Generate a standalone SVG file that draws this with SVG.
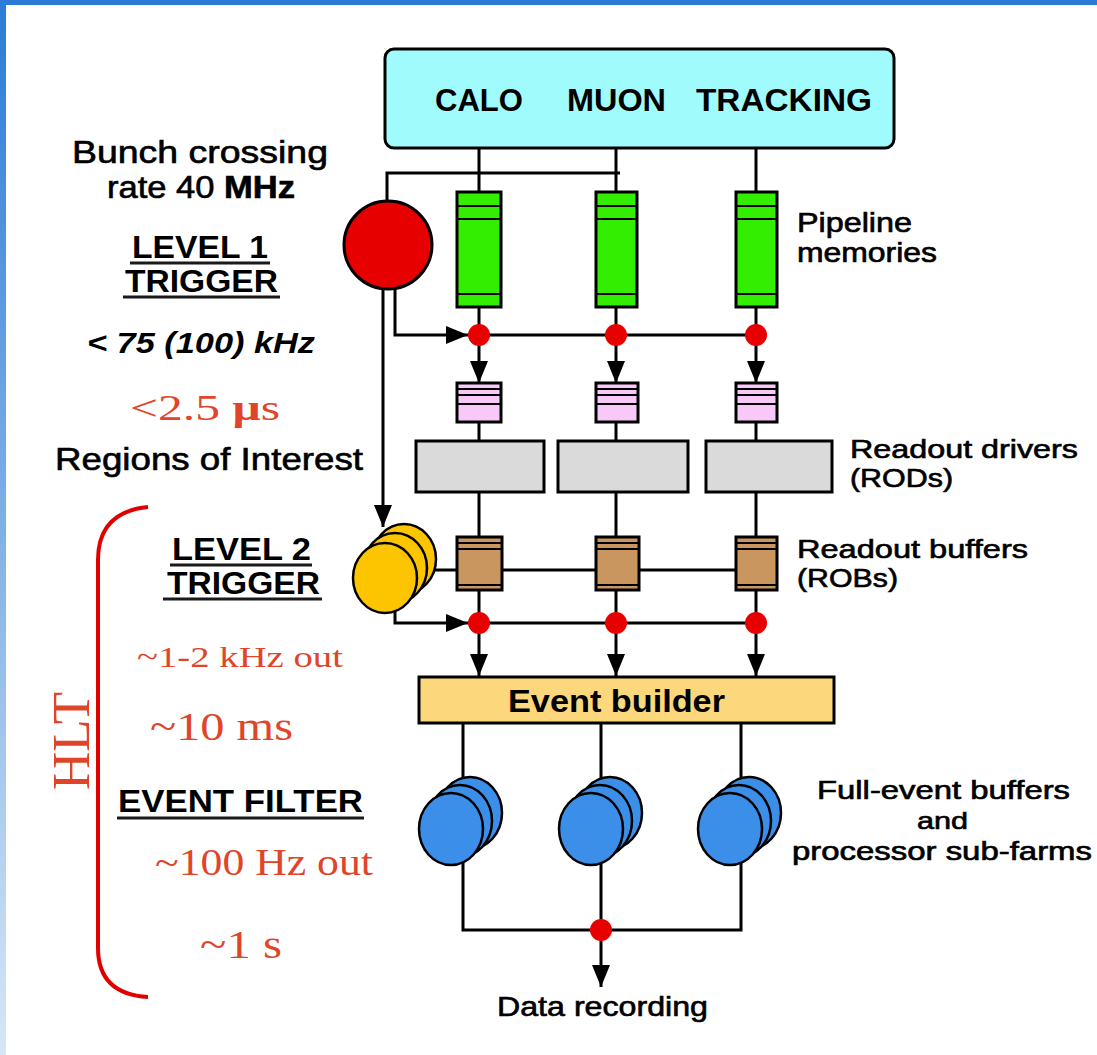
<svg xmlns="http://www.w3.org/2000/svg" width="1097" height="1055" viewBox="0 0 1097 1055">
<defs>
  <linearGradient id="sideGrad" x1="0" y1="0" x2="0" y2="1">
    <stop offset="0" stop-color="#2a7cd6"/>
    <stop offset="1" stop-color="#d6e6f6"/>
  </linearGradient>
  <marker id="arr" viewBox="0 0 22 18" refX="22" refY="9" markerWidth="22" markerHeight="18" markerUnits="userSpaceOnUse" orient="auto" preserveAspectRatio="none">
    <path d="M0,0 L22,9 L0,18 z" fill="#000"/>
  </marker>
  <style>
    .sans { font-family: "Liberation Sans", Arial, sans-serif; fill: #000; }
    .med { stroke: #000; stroke-width: 0.65; }
    .b { font-weight: bold; }
    .serif { font-family: "Liberation Serif", "Times New Roman", serif; fill: #e0452a; }
    .ul { stroke: #1a1a1a; stroke-width: 3; }
    .wire { stroke: #000; stroke-width: 3; fill: none; }
    .box { stroke: #000; stroke-width: 3; }
    .thin { stroke: #000; stroke-width: 2; }
    .dot { fill: #e60000; }
    .disk { stroke: #000; stroke-width: 2.5; }
  </style>
</defs>

<rect x="0" y="0" width="1097" height="1055" fill="#ffffff"/>
<rect x="0" y="0" width="1097" height="5" fill="#2a7cd6"/>
<rect x="0" y="0" width="6" height="1055" fill="url(#sideGrad)"/>

<!-- connectors -->
<g id="connectors">
  <path class="wire" d="M479,148 V192 M616,148 V192 M756,148 V192"/>
  <path class="wire" d="M387,200 V173 H620"/>
  <path class="wire" d="M479,307 V335 M616,307 V335 M756,307 V335"/>
  <path class="wire" d="M395,289 V335 H468" marker-end="url(#arr)"/>
  <path class="wire" d="M468,335 H756"/>
  <path class="wire" d="M383,290 V527" marker-end="url(#arr)"/>
  <path class="wire" d="M479,335 V383" marker-end="url(#arr)"/>
  <path class="wire" d="M616,335 V383" marker-end="url(#arr)"/>
  <path class="wire" d="M756,335 V383" marker-end="url(#arr)"/>
  <path class="wire" d="M479,422 V441 M616,422 V441 M756,422 V441"/>
  <path class="wire" d="M479,492 V537 M616,492 V537 M756,492 V537"/>
  <path class="wire" d="M430,570 H756"/>
  <path class="wire" d="M479,590 V623 M616,590 V623 M756,590 V623"/>
  <path class="wire" d="M395,610 V623 H468" marker-end="url(#arr)"/>
  <path class="wire" d="M468,623 H756"/>
  <path class="wire" d="M479,623 V676" marker-end="url(#arr)"/>
  <path class="wire" d="M616,623 V676" marker-end="url(#arr)"/>
  <path class="wire" d="M756,623 V676" marker-end="url(#arr)"/>
  <path class="wire" d="M463,723 V800 M601,723 V800 M741,723 V800"/>
  <path class="wire" d="M463,850 V930 H741 V850 M601,850 V930"/>
  <path class="wire" d="M601,930 V987" marker-end="url(#arr)"/>
</g>

<!-- detectors box -->
<g id="detectors">
  <rect class="box" x="385" y="49" width="509" height="99" rx="9" fill="#a0fbfd"/>
  <text class="sans b" font-size="32" y="111"><tspan x="435" textLength="88" lengthAdjust="spacingAndGlyphs">CALO</tspan></text>
  <text class="sans b" font-size="32" y="111"><tspan x="567" textLength="99" lengthAdjust="spacingAndGlyphs">MUON</tspan></text>
  <text class="sans b" font-size="32" y="111"><tspan x="696" textLength="176" lengthAdjust="spacingAndGlyphs">TRACKING</tspan></text>
</g>

<!-- level 1 trigger -->
<g id="level1">
  <circle class="box" cx="388" cy="245" r="44" fill="#e60000"/>
</g>

<!-- pipeline memories -->
<g id="pipelines">
  <g id="pipe1">
    <rect class="box" x="457" y="192" width="44" height="115" fill="#33ee00"/>
    <path class="thin" d="M457,206 H501 M457,219 H501 M457,294 H501"/>
  </g>
  <g id="pipe2">
    <rect class="box" x="596" y="192" width="41" height="115" fill="#33ee00"/>
    <path class="thin" d="M596,206 H637 M596,219 H637 M596,294 H637"/>
  </g>
  <g id="pipe3">
    <rect class="box" x="736" y="192" width="41" height="115" fill="#33ee00"/>
    <path class="thin" d="M736,206 H777 M736,219 H777 M736,294 H777"/>
  </g>
</g>

<!-- junction dots -->
<g id="dots">
  <circle class="dot" cx="479" cy="335" r="11"/>
  <circle class="dot" cx="616" cy="335" r="11"/>
  <circle class="dot" cx="756" cy="335" r="11"/>
  <circle class="dot" cx="479" cy="623" r="11"/>
  <circle class="dot" cx="616" cy="623" r="11"/>
  <circle class="dot" cx="756" cy="623" r="11"/>
  <circle class="dot" cx="601" cy="930" r="11"/>
</g>

<!-- derandomizers -->
<g id="buffers">
  <g id="buf1">
    <rect class="box" x="457" y="383" width="44" height="39" fill="#f8c8f8"/>
    <path class="thin" d="M457,389 H501 M457,395 H501 M457,404 H501"/>
  </g>
  <g id="buf2">
    <rect class="box" x="596" y="383" width="42" height="39" fill="#f8c8f8"/>
    <path class="thin" d="M596,389 H638 M596,395 H638 M596,404 H638"/>
  </g>
  <g id="buf3">
    <rect class="box" x="736" y="383" width="41" height="39" fill="#f8c8f8"/>
    <path class="thin" d="M736,389 H777 M736,395 H777 M736,404 H777"/>
  </g>
</g>

<!-- RODs -->
<g id="rods">
  <rect id="rod1" class="box" x="416" y="441" width="128" height="51" fill="#dadada"/>
  <rect id="rod2" class="box" x="558" y="441" width="130" height="51" fill="#dadada"/>
  <rect id="rod3" class="box" x="706" y="441" width="126" height="51" fill="#dadada"/>
</g>

<!-- ROBs -->
<g id="robs">
  <g id="rob1">
    <rect class="box" x="457" y="537" width="45" height="53" fill="#c99660"/>
    <path class="thin" d="M457,543 H502 M457,549 H502 M457,585 H502"/>
  </g>
  <g id="rob2">
    <rect class="box" x="596" y="537" width="43" height="53" fill="#c99660"/>
    <path class="thin" d="M596,543 H639 M596,549 H639 M596,585 H639"/>
  </g>
  <g id="rob3">
    <rect class="box" x="736" y="537" width="41" height="53" fill="#c99660"/>
    <path class="thin" d="M736,543 H777 M736,549 H777 M736,585 H777"/>
  </g>
</g>

<!-- level 2 trigger -->
<g id="level2">
  <ellipse class="disk" cx="404" cy="559" rx="32" ry="35" fill="#fcc500"/>
  <ellipse class="disk" cx="395" cy="568" rx="32" ry="35" fill="#fcc500"/>
  <ellipse class="disk" cx="385" cy="578" rx="32" ry="35" fill="#fcc500"/>
</g>

<!-- event builder -->
<g id="eventbuilder">
  <rect class="box" x="419" y="677" width="415" height="46" fill="#fcd77c"/>
  <text class="sans b" font-size="31" x="508" y="712" textLength="217" lengthAdjust="spacingAndGlyphs">Event builder</text>
</g>

<!-- sub-farms -->
<g id="farms">
  <g id="farm1">
    <ellipse class="disk" cx="470" cy="813" rx="32" ry="36" fill="#3b8fe8"/>
    <ellipse class="disk" cx="460" cy="821" rx="32" ry="36" fill="#3b8fe8"/>
    <ellipse class="disk" cx="451" cy="829" rx="32" ry="36" fill="#3b8fe8"/>
  </g>
  <g id="farm2">
    <ellipse class="disk" cx="610" cy="813" rx="32" ry="36" fill="#3b8fe8"/>
    <ellipse class="disk" cx="600" cy="821" rx="32" ry="36" fill="#3b8fe8"/>
    <ellipse class="disk" cx="591" cy="829" rx="32" ry="36" fill="#3b8fe8"/>
  </g>
  <g id="farm3">
    <ellipse class="disk" cx="749" cy="813" rx="32" ry="36" fill="#3b8fe8"/>
    <ellipse class="disk" cx="739" cy="821" rx="32" ry="36" fill="#3b8fe8"/>
    <ellipse class="disk" cx="730" cy="829" rx="32" ry="36" fill="#3b8fe8"/>
  </g>
</g>

<!-- data recording label -->
<g id="datarecording">
  <text class="sans med" font-size="28" stroke-width="0.9" x="497" y="1016" textLength="211" lengthAdjust="spacingAndGlyphs">Data recording</text>
</g>

<!-- left labels -->
<g id="left-labels">
  <text class="sans med" font-size="32" x="72" y="163" textLength="256" lengthAdjust="spacingAndGlyphs">Bunch crossing</text>
  <text class="sans med" font-size="32" x="107" y="198" textLength="188" lengthAdjust="spacingAndGlyphs">rate 40 <tspan font-weight="bold">MHz</tspan></text>
  <text class="sans b" font-size="31" x="132" y="258" textLength="136" lengthAdjust="spacingAndGlyphs">LEVEL 1</text>
  <line class="ul" x1="130" y1="263" x2="270" y2="263"/>
  <text class="sans b" font-size="31" x="125" y="292" textLength="153" lengthAdjust="spacingAndGlyphs">TRIGGER</text>
  <line class="ul" x1="123" y1="297" x2="280" y2="297"/>
  <text class="sans b" font-size="30" font-style="italic" x="87" y="353" textLength="228" lengthAdjust="spacingAndGlyphs">&lt; 75 (100) kHz</text>
  <text class="serif" font-size="36" x="130" y="420" textLength="150" lengthAdjust="spacingAndGlyphs">&lt;2.5 <tspan font-weight="bold">μ</tspan>s</text>
  <text class="sans med" font-size="32" x="55" y="470" textLength="308" lengthAdjust="spacingAndGlyphs">Regions of Interest</text>

  <text class="sans b" font-size="31" x="172" y="560" textLength="139" lengthAdjust="spacingAndGlyphs">LEVEL 2</text>
  <line class="ul" x1="170" y1="565" x2="312" y2="565"/>
  <text class="sans b" font-size="31" x="167" y="594" textLength="153" lengthAdjust="spacingAndGlyphs">TRIGGER</text>
  <line class="ul" x1="163" y1="599" x2="322" y2="599"/>
  <text class="serif" font-size="30" x="137" y="667" textLength="206" lengthAdjust="spacingAndGlyphs">~1-2 kHz out</text>
  <text class="serif" font-size="40" x="150" y="740" textLength="143" lengthAdjust="spacingAndGlyphs">~10 ms</text>
  <text class="sans b" font-size="32" x="118" y="812" textLength="245" lengthAdjust="spacingAndGlyphs">EVENT FILTER</text>
  <line class="ul" x1="117" y1="818" x2="364" y2="818"/>
  <text class="serif" font-size="37" x="155" y="875" textLength="218" lengthAdjust="spacingAndGlyphs">~100 Hz out</text>
  <text class="serif" font-size="41" x="200" y="958" textLength="82" lengthAdjust="spacingAndGlyphs">~1 s</text>
</g>

<!-- HLT brace -->
<g id="hlt">
  <path d="M148,507 Q98,512 98,560 V948 Q98,994 148,997" fill="none" stroke="#e00000" stroke-width="4"/>
  <text class="serif" font-size="52" transform="translate(89,741) rotate(-90)" text-anchor="middle" textLength="98" lengthAdjust="spacingAndGlyphs">HLT</text>
</g>

<!-- right labels -->
<g id="right-labels">
  <text class="sans med" font-size="27" x="797" y="232" textLength="115" lengthAdjust="spacingAndGlyphs">Pipeline</text>
  <text class="sans med" font-size="27" x="797" y="262" textLength="140" lengthAdjust="spacingAndGlyphs">memories</text>
  <text class="sans med" font-size="26" x="850" y="458" textLength="228" lengthAdjust="spacingAndGlyphs">Readout drivers</text>
  <text class="sans med" font-size="26" x="850" y="487" textLength="103" lengthAdjust="spacingAndGlyphs">(RODs)</text>
  <text class="sans med" font-size="26" x="797" y="558" textLength="231" lengthAdjust="spacingAndGlyphs">Readout buffers</text>
  <text class="sans med" font-size="26" x="797" y="587" textLength="101" lengthAdjust="spacingAndGlyphs">(ROBs)</text>
  <text class="sans med" font-size="25" x="817" y="799" textLength="253" lengthAdjust="spacingAndGlyphs">Full-event buffers</text>
  <text class="sans med" font-size="24" x="917" y="829" textLength="51" lengthAdjust="spacingAndGlyphs">and</text>
  <text class="sans med" font-size="25" x="792" y="860" textLength="300" lengthAdjust="spacingAndGlyphs">processor sub-farms</text>
</g>
</svg>
